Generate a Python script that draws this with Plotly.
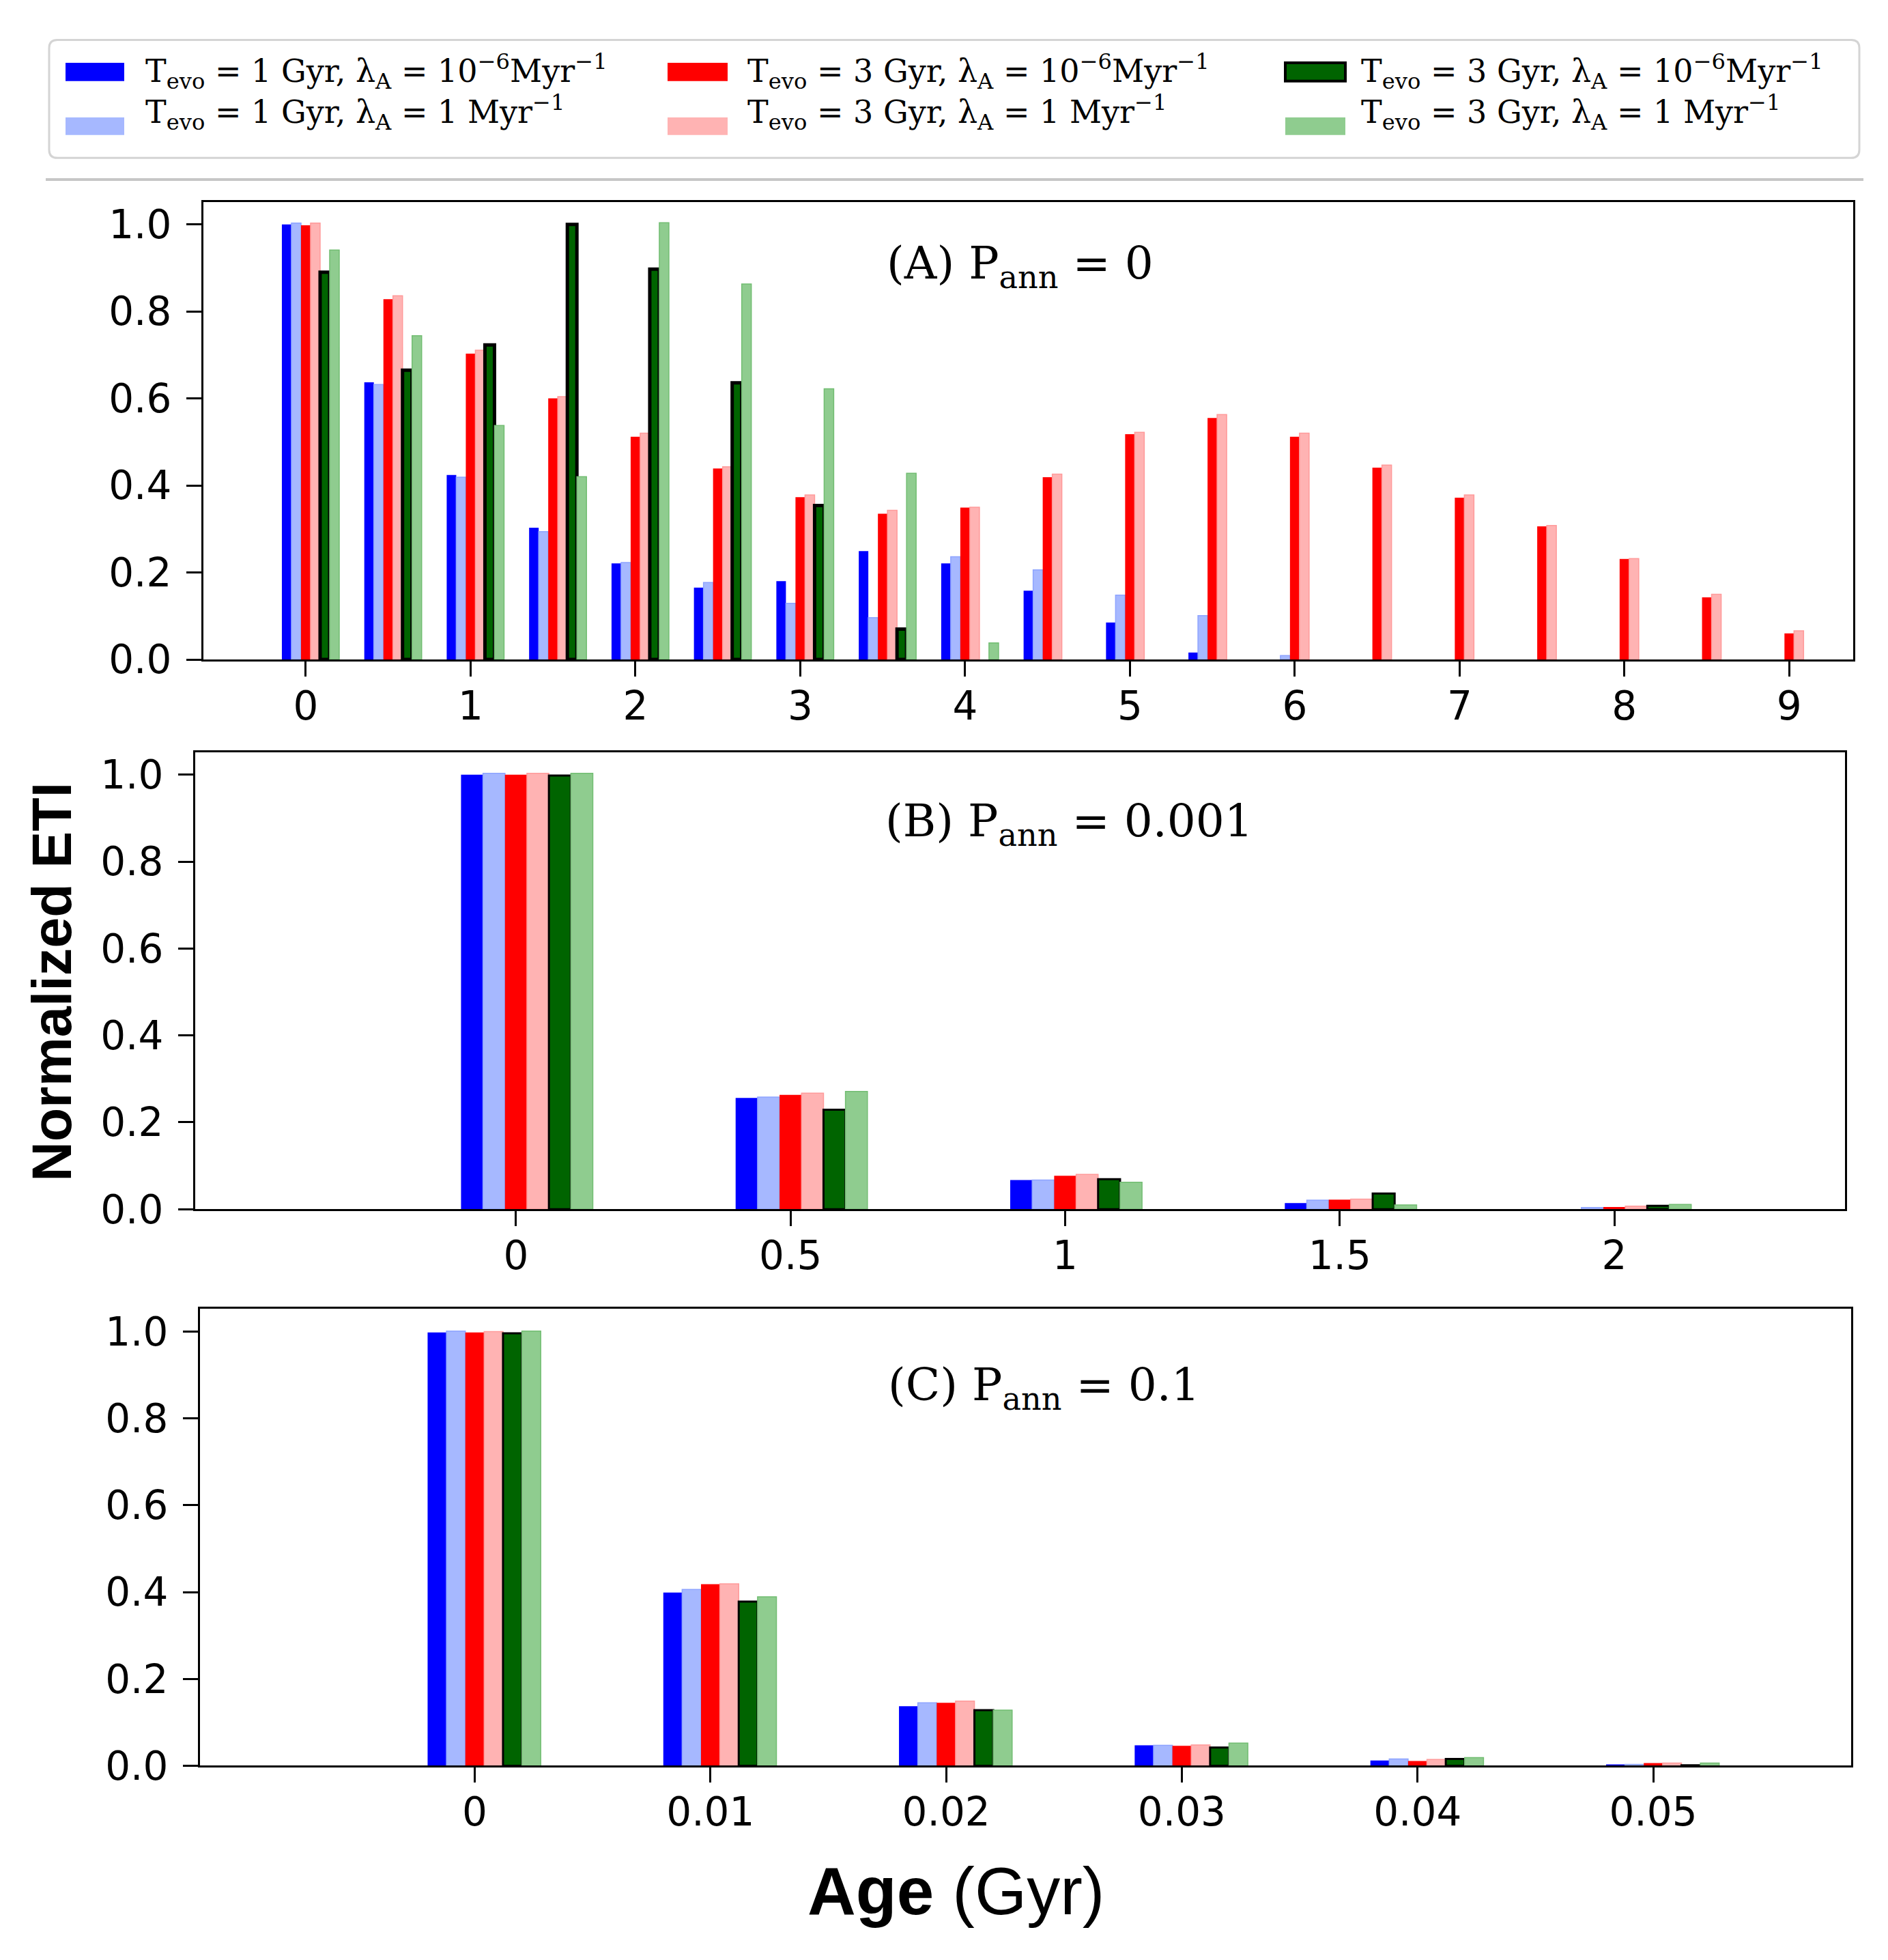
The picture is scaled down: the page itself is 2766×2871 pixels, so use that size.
import plotly.graph_objects as go

W, H = 2766, 2871

# ---------------- data ----------------
series_labels = [
    "T<sub>evo</sub> = 1 Gyr, λ<sub>A</sub> = 10<sup>−6</sup>Myr<sup>−1</sup>",
    "T<sub>evo</sub> = 1 Gyr, λ<sub>A</sub> = 1 Myr<sup>−1</sup>",
    "T<sub>evo</sub> = 3 Gyr, λ<sub>A</sub> = 10<sup>−6</sup>Myr<sup>−1</sup>",
    "T<sub>evo</sub> = 3 Gyr, λ<sub>A</sub> = 1 Myr<sup>−1</sup>",
    "T<sub>evo</sub> = 3 Gyr, λ<sub>A</sub> = 10<sup>−6</sup>Myr<sup>−1</sup>",
    "T<sub>evo</sub> = 3 Gyr, λ<sub>A</sub> = 1 Myr<sup>−1</sup>",
]
fill_colors = ["#0000ff", "#a6b8ff", "#ff0000", "#ffb3b3", "#006400", "#8fcc8f"]
edge_colors = ["#0000ff", "#8ea4ff", "#ff0000", "#ff9a9a", "#000000", "#72bd72"]

# Panel A: P_ann = 0
age_A = [0, 0.5, 1, 1.5, 2, 2.5, 3, 3.5, 4, 4.5, 5, 5.5, 6, 6.5, 7, 7.5, 8, 8.5, 9]
A_t1_lo = [1.0, 0.637, 0.424, 0.303, 0.221, 0.165, 0.180, 0.249, 0.221, 0.158, 0.085, 0.016, 0.0, 0, 0, 0, 0, 0, 0]
A_t1_hi = [1.003, 0.632, 0.419, 0.294, 0.223, 0.177, 0.129, 0.096, 0.236, 0.206, 0.148, 0.101, 0.009, 0, 0, 0, 0, 0, 0]
A_t3_lo = [0.998, 0.828, 0.703, 0.600, 0.512, 0.439, 0.373, 0.335, 0.349, 0.419, 0.518, 0.555, 0.512, 0.441, 0.372, 0.306, 0.231, 0.143, 0.060]
A_t3_hi = [1.003, 0.836, 0.711, 0.604, 0.520, 0.443, 0.378, 0.343, 0.350, 0.426, 0.522, 0.563, 0.520, 0.447, 0.378, 0.308, 0.232, 0.150, 0.066]
A_t3b_lo = [0.890, 0.665, 0.723, 1.0, 0.897, 0.636, 0.354, 0.070, 0, 0, 0, 0, 0, 0, 0, 0, 0, 0, 0]
A_t3b_hi = [0.941, 0.744, 0.538, 0.420, 1.004, 0.863, 0.622, 0.428, 0.038, 0, 0, 0, 0, 0, 0, 0, 0, 0, 0]

# Panel B: P_ann = 0.001
age_B = [0, 0.5, 1, 1.5, 2]
B_t1_lo = [1.0, 0.256, 0.067, 0.014, 0.0]
B_t1_hi = [1.003, 0.258, 0.067, 0.021, 0.004]
B_t3_lo = [1.0, 0.263, 0.077, 0.022, 0.005]
B_t3_hi = [1.003, 0.267, 0.080, 0.023, 0.007]
B_t3b_lo = [0.998, 0.229, 0.069, 0.036, 0.008]
B_t3b_hi = [1.003, 0.271, 0.062, 0.010, 0.011]

# Panel C: P_ann = 0.1
age_C = [0, 0.01, 0.02, 0.03, 0.04, 0.05]
C_t1_lo = [0.998, 0.399, 0.137, 0.047, 0.012, 0.002]
C_t1_hi = [1.001, 0.406, 0.145, 0.047, 0.0155, 0.003]
C_t3_lo = [0.998, 0.418, 0.145, 0.046, 0.011, 0.006]
C_t3_hi = [1.0, 0.419, 0.149, 0.048, 0.0145, 0.006]
C_t3b_lo = [0.996, 0.378, 0.128, 0.042, 0.0155, 0.001]
C_t3b_hi = [1.001, 0.389, 0.128, 0.052, 0.0186, 0.006]

ticks_A = [0, 1, 2, 3, 4, 5, 6, 7, 8, 9]
ticktext_A = ["0", "1", "2", "3", "4", "5", "6", "7", "8", "9"]
ticks_B = [0, 0.5, 1, 1.5, 2]
ticktext_B = ["0", "0.5", "1", "1.5", "2"]
ticks_C = [0, 0.01, 0.02, 0.03, 0.04, 0.05]
ticktext_C = ["0", "0.01", "0.02", "0.03", "0.04", "0.05"]
yticks = [0, 0.2, 0.4, 0.6, 0.8, 1.0]
yticktext = ["0.0", "0.2", "0.4", "0.6", "0.8", "1.0"]

panel_titles = ["(A) P<sub>ann</sub> = 0", "(B) P<sub>ann</sub> = 0.001", "(C) P<sub>ann</sub> = 0.1"]

panels = [
    dict(x=age_A, ys=[A_t1_lo, A_t1_hi, A_t3_lo, A_t3_hi, A_t3b_lo, A_t3b_hi], w=0.058,
         xa="x", ya="y", dgline=5),
    dict(x=age_B, ys=[B_t1_lo, B_t1_hi, B_t3_lo, B_t3_hi, B_t3b_lo, B_t3b_hi], w=0.04,
         xa="x2", ya="y2", dgline=3),
    dict(x=age_C, ys=[C_t1_lo, C_t1_hi, C_t3_lo, C_t3_hi, C_t3b_lo, C_t3b_hi], w=0.0008,
         xa="x3", ya="y3", dgline=3),
]

# ---------------- figure ----------------
def px_x(p):
    return p / W

def px_y(p):
    return 1 - p / H

fig = go.Figure()
for pan in panels:
    w = pan["w"]
    for i, ys in enumerate(pan["ys"]):
        lw = pan["dgline"] if i == 4 else (1.5 if i in (1, 3, 5) else 0)
        lws = [lw if v > 0 else 0 for v in ys]
        fig.add_trace(go.Bar(
            x=pan["x"], y=ys, width=w, offset=(i - 2.5) * w,
            marker=dict(color=fill_colors[i], line=dict(color=edge_colors[i], width=lws)),
            name=series_labels[i], showlegend=False,
            xaxis=pan["xa"], yaxis=pan["ya"],
        ))

tickfont = dict(family="DejaVu Sans", size=58, color="black")
common_x = dict(ticks="outside", ticklen=22, tickwidth=2.5, tickcolor="black",
                showgrid=False, zeroline=False, showline=True, mirror=True,
                linecolor="black", linewidth=3, tickfont=tickfont,
                ticklabelstandoff=-7)
common_y = dict(ticks="outside", ticklen=22, tickwidth=2.5, tickcolor="black",
                showgrid=False, zeroline=False, showline=True, mirror=True,
                linecolor="black", linewidth=3, tickfont=tickfont,
                tickvals=yticks, ticktext=yticktext, range=[0, 1.052],
                ticklabelstandoff=10)

layout_axes = dict(
    xaxis=dict(domain=[px_x(290), px_x(2707)], range=[-0.621, 9.388], anchor="y",
               tickvals=ticks_A, ticktext=ticktext_A, **common_x),
    yaxis=dict(domain=[px_y(969.5), px_y(291)], anchor="x", **common_y),
    xaxis2=dict(domain=[px_x(278), px_x(2695)], range=[-0.584, 2.420], anchor="y2",
                tickvals=ticks_B, ticktext=ticktext_B, **common_x),
    yaxis2=dict(domain=[px_y(1784.4), px_y(1106.7)], anchor="x2", **common_y),
    xaxis3=dict(domain=[px_x(285), px_x(2704)], range=[-0.011657, 0.058398], anchor="y3",
                tickvals=ticks_C, ticktext=ticktext_C, **common_x),
    yaxis3=dict(domain=[px_y(2609.3), px_y(1932.3)], anchor="x3", **common_y),
)

annotations = []
# panel titles
for txt, (xl, yc) in zip(panel_titles, [(1289, 387), (1287, 1213), (1291, 2049)]):
    annotations.append(dict(text=txt, x=px_x(xl), y=px_y(yc), xref="paper", yref="paper",
                            xanchor="left", yanchor="middle", showarrow=False,
                            font=dict(family="DejaVu Serif", size=66, color="black")))

# axis titles
annotations.append(dict(text="Normalized ETI", x=px_x(68), y=px_y(1448), xref="paper", yref="paper",
                        textangle=-90, showarrow=False, xanchor="center", yanchor="middle",
                        font=dict(family="Liberation Sans", size=81, color="black", weight="bold")))
annotations.append(dict(text="<b>Age</b> (Gyr)", x=px_x(1393), y=px_y(2795), xref="paper", yref="paper",
                        showarrow=False, xanchor="center", yanchor="middle",
                        font=dict(family="Liberation Sans", size=98, color="black")))

# legend (drawn by hand so the swatches keep the reference's wide shape)
shapes = []
x0, x1, y0, y1, r = 64, 2716, 51, 226, 12
path = (f"M {x0 + r} {y0} L {x1 - r} {y0} Q {x1} {y0} {x1} {y0 + r} L {x1} {y1 - r} "
        f"Q {x1} {y1} {x1 - r} {y1} L {x0 + r} {y1} Q {x0} {y1} {x0} {y1 - r} "
        f"L {x0} {y0 + r} Q {x0} {y0} {x0 + r} {y0} Z")

def conv_path(p):
    toks = p.split()
    out = []
    coords = []
    for t in toks:
        if t.isalpha():
            out.append(t)
        else:
            coords.append(float(t))
            if len(coords) == 2:
                out.append(f"{px_x(coords[0]):.6f},{px_y(coords[1]):.6f}")
                coords = []
    return " ".join(out)

shapes.append(dict(type="path", path=conv_path(path), xref="paper", yref="paper",
                   line=dict(color="#d4d4d4", width=3), fillcolor="white", layer="below"))
shapes.append(dict(type="line", x0=px_x(59), x1=px_x(2722), y0=px_y(258), y1=px_y(258),
                   xref="paper", yref="paper", line=dict(color="#c6c6c6", width=4)))

col_sw = [(88, 174), (970, 1058), (1875, 1963)]
col_tx = [203, 1085, 1984]
row_sw = [(85, 112), (166, 192)]
row_tx = [98, 158]
order = [[0, 2, 4], [1, 3, 5]]
for ri in range(2):
    for ci in range(3):
        k = order[ri][ci]
        sx0, sx1 = col_sw[ci]
        sy0, sy1 = row_sw[ri]
        lc = "black" if k == 4 else fill_colors[k]
        shapes.append(dict(type="rect", xref="paper", yref="paper",
                           x0=px_x(sx0), x1=px_x(sx1), y0=px_y(sy1), y1=px_y(sy0),
                           fillcolor=fill_colors[k], line=dict(color=lc, width=4 if k == 4 else 0)))
        annotations.append(dict(text=series_labels[k], x=px_x(col_tx[ci]), y=px_y(row_tx[ri]),
                                xref="paper", yref="paper", xanchor="left", yanchor="middle",
                                showarrow=False,
                                font=dict(family="DejaVu Serif", size=46, color="black")))

fig.update_layout(
    width=W, height=H, margin=dict(l=0, r=0, t=0, b=0),
    paper_bgcolor="white", plot_bgcolor="white",
    barmode="overlay", showlegend=False,
    annotations=annotations, shapes=shapes,
    **layout_axes,
)

fig.write_html("out.html")
